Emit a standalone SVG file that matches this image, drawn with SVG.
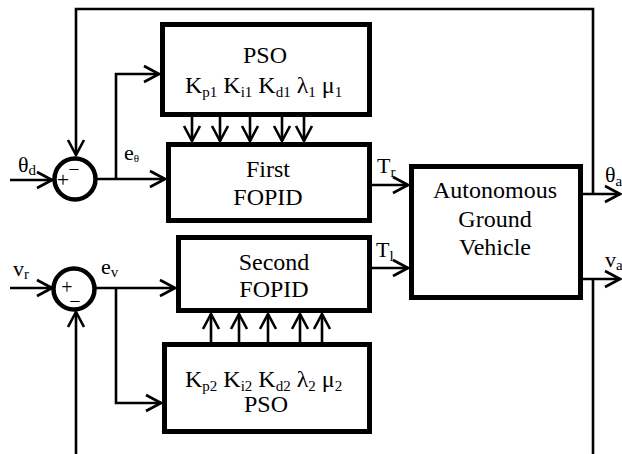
<svg xmlns="http://www.w3.org/2000/svg" width="622" height="454" viewBox="0 0 622 454" font-family="'Liberation Serif', 'Times New Roman', serif">
<style>
text, tspan{font-family:"Liberation Serif","Times New Roman",serif;fill:#000}
.t{font-size:24px}
.mid{text-anchor:middle}
.l{font-size:22px}
.s{font-size:15px}
.box{fill:none;stroke:#000;stroke-width:5}
.c{fill:none;stroke:#000;stroke-width:2.6}
.sum{fill:#fff;stroke:#000;stroke-width:4.5}
</style>
<defs>
<marker id="ah" markerUnits="userSpaceOnUse" viewBox="-18 -10 20 20" refX="0" refY="0" markerWidth="20" markerHeight="20" orient="auto">
<path d="M-15,-8 L0,0 L-15,8" fill="none" stroke="#000" stroke-width="2.6"/>
</marker>
</defs>
<rect width="622" height="454" fill="#fff"/>
<g id="connectors">
<polyline class="c" points="593,194 593,9 76,9 76,155" marker-end="url(#ah)"/>
<line class="c" x1="10" y1="180" x2="52" y2="180" marker-end="url(#ah)"/>
<line class="c" x1="97" y1="179" x2="165" y2="179" marker-end="url(#ah)"/>
<polyline class="c" points="116,179 116,74 159,74" marker-end="url(#ah)"/>
<line class="c" x1="192" y1="117" x2="192" y2="141" marker-end="url(#ah)"/>
<line class="c" x1="220" y1="117" x2="220" y2="141" marker-end="url(#ah)"/>
<line class="c" x1="250" y1="117" x2="250" y2="141" marker-end="url(#ah)"/>
<line class="c" x1="282" y1="117" x2="282" y2="141" marker-end="url(#ah)"/>
<line class="c" x1="304" y1="117" x2="304" y2="141" marker-end="url(#ah)"/>
<line class="c" x1="372" y1="185" x2="408" y2="185" marker-end="url(#ah)"/>
<line class="c" x1="372" y1="268" x2="408" y2="268" marker-end="url(#ah)"/>
<line class="c" x1="583" y1="194" x2="620" y2="194" marker-end="url(#ah)"/>
<line class="c" x1="583" y1="279" x2="620" y2="279" marker-end="url(#ah)"/>
<line class="c" x1="593" y1="279" x2="593" y2="454"/>
<line class="c" x1="10" y1="288" x2="52" y2="288" marker-end="url(#ah)"/>
<line class="c" x1="96" y1="288" x2="175" y2="288" marker-end="url(#ah)"/>
<polyline class="c" points="116,288 116,403 161,403" marker-end="url(#ah)"/>
<line class="c" x1="211" y1="342" x2="211" y2="314" marker-end="url(#ah)"/>
<line class="c" x1="239" y1="342" x2="239" y2="314" marker-end="url(#ah)"/>
<line class="c" x1="268" y1="342" x2="268" y2="314" marker-end="url(#ah)"/>
<line class="c" x1="300" y1="342" x2="300" y2="314" marker-end="url(#ah)"/>
<line class="c" x1="322" y1="342" x2="322" y2="314" marker-end="url(#ah)"/>
<line class="c" x1="76" y1="454" x2="76" y2="312" marker-end="url(#ah)"/>
</g>
<g id="labels">
<text class="l" x="18" y="172">θ<tspan class="s" dy="3">d</tspan></text>
<text class="l" x="124" y="160">e<tspan font-size="11" dy="2">θ</tspan></text>
<text class="l" x="377" y="173">T<tspan class="s" dy="4">r</tspan></text>
<text class="l" x="376" y="257">T<tspan class="s" dy="4">l</tspan></text>
<text class="l" x="605" y="182">θ<tspan class="s" dy="4">a</tspan></text>
<text class="l" x="605" y="267">v<tspan class="s" dy="3">a</tspan></text>
<text class="l" x="13" y="276">v<tspan class="s" dy="3">r</tspan></text>
<text class="l" x="101" y="274">e<tspan class="s" dy="3">v</tspan></text>
</g>
<g id="sum1">
<circle class="sum" cx="75" cy="179" r="20.5"/>
<text x="63" y="187" class="mid" font-size="22">+</text>
<text x="74" y="176" class="mid" font-size="20">−</text>
</g>
<g id="sum2">
<circle class="sum" cx="74" cy="289" r="20.5"/>
<text x="67" y="294" class="mid" font-size="20">+</text>
<text x="75" y="308" class="mid" font-size="20">−</text>
</g>
<g id="pso1">
<rect class="box" x="162.5" y="24.5" width="207" height="90"/>
<text class="t mid" x="265" y="63">PSO</text>
<text class="t" x="185" y="93">K<tspan class="s" dy="4">p1</tspan><tspan dy="-4"> K</tspan><tspan class="s" dy="4">i1</tspan><tspan dy="-4"> K</tspan><tspan class="s" dy="4">d1</tspan><tspan dy="-4"> λ</tspan><tspan class="s" dy="4">1</tspan><tspan dy="-4"> μ</tspan><tspan class="s" dy="4">1</tspan></text>
</g>
<g id="fopid1">
<rect class="box" x="168.5" y="144.5" width="201" height="76"/>
<text class="t mid" x="268" y="177">First</text>
<text class="t mid" x="268" y="205">FOPID</text>
</g>
<g id="fopid2">
<rect class="box" x="178.5" y="237.5" width="191" height="73"/>
<text class="t mid" x="274" y="270">Second</text>
<text class="t mid" x="274" y="297">FOPID</text>
</g>
<g id="pso2">
<rect class="box" x="164.5" y="344.5" width="205" height="87"/>
<text class="t" x="185" y="387">K<tspan class="s" dy="4">p2</tspan><tspan dy="-4"> K</tspan><tspan class="s" dy="4">i2</tspan><tspan dy="-4"> K</tspan><tspan class="s" dy="4">d2</tspan><tspan dy="-4"> λ</tspan><tspan class="s" dy="4">2</tspan><tspan dy="-4"> μ</tspan><tspan class="s" dy="4">2</tspan></text>
<text class="t mid" x="266" y="412">PSO</text>
</g>
<g id="agv">
<rect class="box" x="411.5" y="166.5" width="169" height="131"/>
<text class="t mid" x="495" y="198">Autonomous</text>
<text class="t mid" x="495" y="227">Ground</text>
<text class="t mid" x="495" y="255">Vehicle</text>
</g>
</svg>
